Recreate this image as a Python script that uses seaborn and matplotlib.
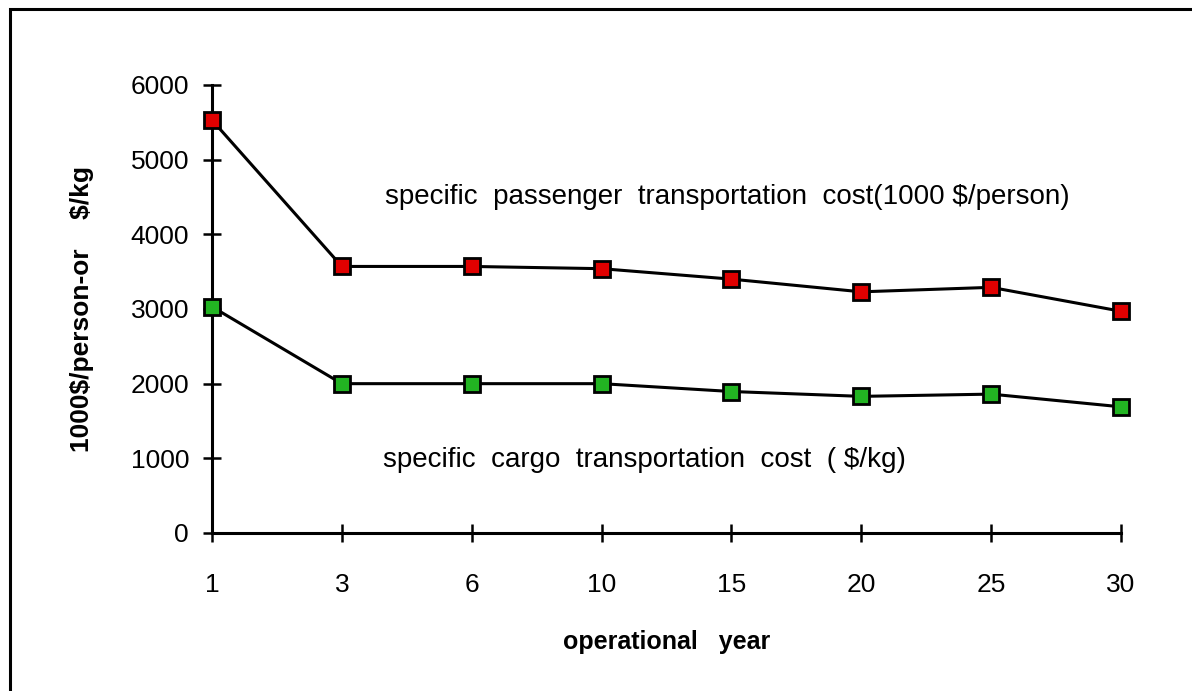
import numpy as np
import pandas as pd
import matplotlib
matplotlib.use("Agg")
import matplotlib.pyplot as plt
from matplotlib.patches import Rectangle
import seaborn as sns

# Operational years (categorical axis) and specific transportation costs
years = ["1", "3", "6", "10", "15", "20", "25", "30"]
passenger_cost = [5530, 3570, 3570, 3540, 3400, 3230, 3290, 2970]   # 1000 $/person
cargo_cost = [3030, 2000, 2000, 2000, 1895, 1830, 1860, 1690]       # $/kg

sns.set_theme(style="white")
plt.rcParams["font.family"] = ["Liberation Sans", "DejaVu Sans"]

W, H = 1192, 691
fig = plt.figure(figsize=(W / 100, H / 100), dpi=100)
ax = fig.add_axes([212 / W, 1 - 533 / H, (1121 - 212) / W, (533 - 85) / H])

pos = np.arange(len(years))
df = pd.DataFrame({
    "pos": np.concatenate([pos, pos]),
    "cost": passenger_cost + cargo_cost,
    "series": ["passenger"] * len(years) + ["cargo"] * len(years),
})

face = {"passenger": "#e00000", "cargo": "#22b422"}
for name in ["passenger", "cargo"]:
    sub = df[df["series"] == name]
    sns.lineplot(data=sub, x="pos", y="cost", ax=ax, color="black",
                 linewidth=2.2, marker="s", markersize=11,
                 markerfacecolor=face[name], markeredgecolor="black",
                 markeredgewidth=2, clip_on=False, zorder=5)

ax.set_xlim(0, len(years) - 1)
ax.set_ylim(0, 6000)
ax.set_xticks(pos)
ax.set_xticklabels(years)
ax.set_yticks(np.arange(0, 6001, 1000))

for side in ["top", "right"]:
    ax.spines[side].set_visible(False)
for side in ["left", "bottom"]:
    ax.spines[side].set_color("black")
    ax.spines[side].set_linewidth(2.2)

ax.tick_params(axis="both", which="major", direction="inout", length=13,
               width=1.8, color="black", labelsize=19, labelcolor="black",
               bottom=True, left=True)
ax.tick_params(axis="y", pad=10)
ax.tick_params(axis="x", pad=22)

ax.set_xlabel("operational   year", fontsize=18, fontweight="bold",
              color="black", labelpad=24)
ax.set_ylabel("1000\\$/person-or    \\$/kg", fontsize=19, fontweight="bold",
              color="black", labelpad=26)

ax.text(3.97, 4500, "specific  passenger  transportation  cost(1000 \\$/person)",
        ha="center", va="center", fontsize=20, color="black")
ax.text(3.33, 980, "specific  cargo  transportation  cost  ( \\$/kg)",
        ha="center", va="center", fontsize=20, color="black")

# Frame around the chart area (extends past the right and bottom edges)
fig.patches.append(Rectangle((9.5 / W, -0.05), 1.1, 1 - 9.5 / H + 0.05,
                             transform=fig.transFigure, fill=False,
                             edgecolor="black", linewidth=2.2))

fig.savefig("out.png", dpi=100, facecolor="white")
